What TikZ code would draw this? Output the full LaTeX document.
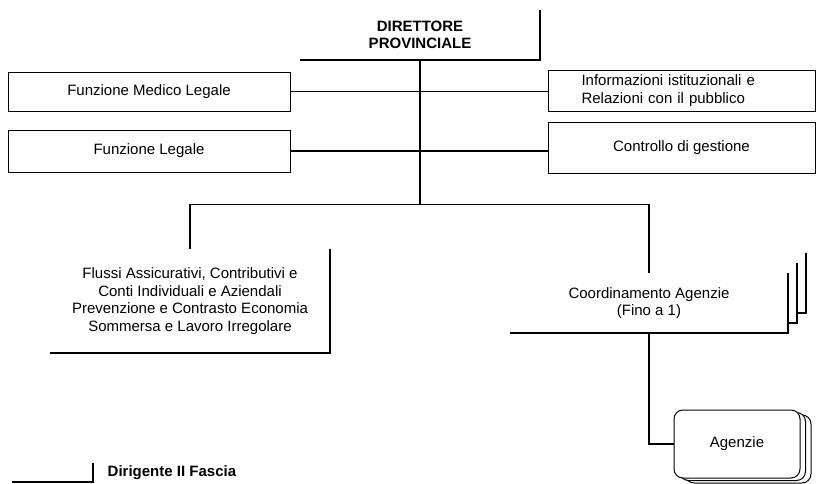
\documentclass[tikz,border=0pt]{standalone}
\usepackage{fontspec}
\setmainfont{Liberation Sans}
\usetikzlibrary{shadows,positioning}

\newcommand{\testo}{\fontsize{15}{17.5}\selectfont}

\tikzset{
  ufficio/.style={draw, line width=0.9pt, fill=white, font=\testo, minimum width=282pt,
    drop shadow={shadow xshift=1.3pt, shadow yshift=-1.3pt, opacity=1, fill=black}},
  agenzia/.style={draw, line width=1pt, fill=white, rounded corners=9pt, font=\testo,
    minimum width=126pt, minimum height=68pt,
    double copy shadow={shadow xshift=5.5pt, shadow yshift=-2.5pt, opacity=1,
      fill=white, draw=black, line width=1pt}},
  dirig/.style={inner sep=0pt, align=center, font=\testo},
  tratto/.style={line width=2pt},
  linea/.style={line width=1.2pt},
}

\begin{document}
\begin{tikzpicture}[x=1pt, y=-1pt]
	\useasboundingbox (0,0) rectangle (820,484);
	% direttore
	\node[dirig, font=\testo\bfseries, minimum width=240pt, minimum height=50pt] (dir) at (420,35) {DIRETTORE\\PROVINCIALE};
	\draw[tratto] (dir.south west) -- (dir.south east) -- (dir.north east);
	% uffici di staff
	\node[ufficio, minimum height=39pt] (mlg) at (149,91.5) {Funzione Medico Legale};
	\node[ufficio, minimum height=42pt] (leg) at (149,151) {Funzione Legale};
	\node[ufficio, minimum width=267pt, minimum height=41pt, text width=200pt, align=left] (inf) at (681.5,90.5) {Informazioni istituzionali e\\Relazioni con il pubblico};
	\node[ufficio, minimum width=267pt, minimum height=51pt] (ctr) at (681.5,147.5) {Controllo di gestione};
	\draw[linea] (mlg.east) -- (inf.west |- mlg.east);
	\draw[linea] (leg.east) -- (ctr.west |- leg.east);
	% aree dirigenziali
	\node[dirig, minimum width=280pt, minimum height=104pt] (flu) at (190,301) {Flussi Assicurativi, Contributivi e\\Conti Individuali e Aziendali\\Prevenzione e Contrasto Economia\\Sommersa e Lavoro Irregolare};
	\draw[tratto] (flu.south west) -- (flu.south east) -- (flu.north east);
	\node[dirig, minimum width=278pt, minimum height=60pt] (coo) at (649,303) {Coordinamento Agenzie\\(Fino a 1)};
	\draw[tratto] (coo.south west) -- (coo.south east) -- (coo.north east);
	\foreach \k in {1,2}
		\draw[tratto] ([shift={({9*(\k-1)},{-10*\k})}]coo.south east) -- ([shift={({9*\k},{-10*\k})}]coo.south east) -- ([shift={({9*\k},{-10*\k})}]coo.north east);
	\path (dir.south) ++(0,144) coordinate (snodo);
	\draw[linea] (dir.south) -- (snodo);
	\draw[linea] (flu.north) |- (snodo) -| (coo.north);
	% agenzie
	\node[agenzia] (age) at (737,444) {Agenzie};
	\draw[linea] (coo.south) |- (age.west);
	% legenda
	\node[dirig, minimum width=81pt, minimum height=19pt] (chiave) at (52.5,472.5) {};
	\draw[tratto] (chiave.south west) -- (chiave.south east) -- (chiave.north east);
	\node[font=\testo\bfseries, right=11pt of chiave] (nota) {Dirigente II Fascia};
\end{tikzpicture}
\end{document}
